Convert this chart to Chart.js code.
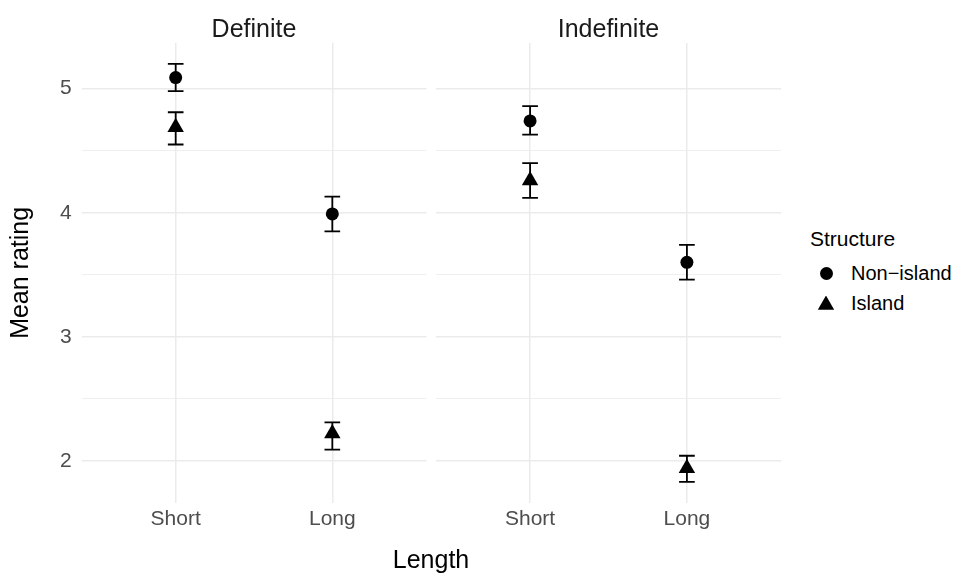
<!DOCTYPE html>
<html>
<head>
<meta charset="utf-8">
<script src="https://cdn.jsdelivr.net/npm/chart.js@4.4.1/dist/chart.umd.min.js"></script>
<style>
  body { margin: 0; background: #fff; font-family: "Liberation Sans", Arial, sans-serif; }
  #wrap { position: relative; width: 962px; height: 584px; overflow: hidden; }
  canvas { position: absolute; top: 0; }
  #definite { left: 0; }
  #indefinite { left: 436px; }
  .txt { position: absolute; white-space: nowrap; color: #000; }
  #xTitle { left: 331px; width: 200px; top: 544px; text-align: center; font-size: 25px; line-height: 30px; }
  #legTitle { left: 810px; top: 227px; font-size: 21px; line-height: 24px; }
  .key { position: absolute; background: #000; }
  #keyCircle { left: 819.5px; top: 266.5px; width: 13px; height: 13px; border-radius: 50%; }
  #keyTriangle { left: 817.8px; top: 295.5px; width: 16.4px; height: 14.2px; clip-path: polygon(50% 0, 100% 100%, 0 100%); }
  #legNon { left: 851px; top: 261px; font-size: 20px; line-height: 24px; }
  #legIsl { left: 851px; top: 291px; font-size: 20px; line-height: 24px; }
</style>
</head>
<body>
<div id="wrap">
  <canvas id="definite" width="430" height="584"></canvas>
  <canvas id="indefinite" width="345" height="584"></canvas>
  <div class="txt" id="xTitle">Length</div>
  <div class="txt" id="legTitle">Structure</div>
  <div class="key" id="keyCircle"></div>
  <div class="key" id="keyTriangle"></div>
  <div class="txt" id="legNon"></div>
  <div class="txt" id="legIsl"></div>
</div>
<script>
// categories
const facets = ["Definite", "Indefinite"];
const lengths = ["Short", "Long"];
const structures = ["Non\u2212island", "Island"];

// mean rating and error bar limits, one value per length (Short, Long)
const definiteNonIsland = [5.09, 3.99];
const definiteNonIslandLo = [4.98, 3.85];
const definiteNonIslandHi = [5.20, 4.13];
const definiteIsland = [4.69, 2.22];
const definiteIslandLo = [4.55, 2.09];
const definiteIslandHi = [4.81, 2.31];

const indefiniteNonIsland = [4.74, 3.60];
const indefiniteNonIslandLo = [4.63, 3.46];
const indefiniteNonIslandHi = [4.86, 3.74];
const indefiniteIsland = [4.26, 1.94];
const indefiniteIslandLo = [4.12, 1.83];
const indefiniteIslandHi = [4.40, 2.04];

// y ticks
const yMajorTicks = [2, 3, 4, 5];
const yMinorTicks = [2.5, 3.5, 4.5];

document.getElementById("legNon").textContent = structures[0];
document.getElementById("legIsl").textContent = structures[1];

Chart.defaults.font.family = "'Liberation Sans', Arial, sans-serif";

// ggplot style range: data range plus 5% on each side
const allLo = [].concat(definiteNonIslandLo, definiteIslandLo, indefiniteNonIslandLo, indefiniteIslandLo);
const allHi = [].concat(definiteNonIslandHi, definiteIslandHi, indefiniteNonIslandHi, indefiniteIslandHi);
const lowest = Math.min(...allLo);
const highest = Math.max(...allHi);
const span = highest - lowest;
const yMin = lowest - 0.05 * span;
const yMax = highest + 0.05 * span;

const gridColor = "#EBEBEB";

/* error bars drawn under the points */
const errorBars = {
  id: "errorBars",
  beforeDatasetsDraw(chart, args, opts) {
    const ctx = chart.ctx;
    const xs = chart.scales.x;
    const ys = chart.scales.y;
    const half = Math.abs(xs.getPixelForValue(1 + opts.width / 2) - xs.getPixelForValue(1));
    ctx.save();
    ctx.strokeStyle = "#000";
    ctx.lineWidth = 1.8;
    chart.data.datasets.forEach((ds) => {
      ds.data.forEach((p, j) => {
        const x = xs.getPixelForValue(p.x);
        const top = ys.getPixelForValue(ds.errHi[j]);
        const bot = ys.getPixelForValue(ds.errLo[j]);
        ctx.beginPath();
        ctx.moveTo(x, top);
        ctx.lineTo(x, bot);
        ctx.moveTo(x - half, top);
        ctx.lineTo(x + half, top);
        ctx.moveTo(x - half, bot);
        ctx.lineTo(x + half, bot);
        ctx.stroke();
      });
    });
    ctx.restore();
  },
};

function points(values) {
  return values.map((v, i) => ({ x: i + 1, y: v }));
}

function makeChart(id, title, nonIsland, nonLo, nonHi, island, islLo, islHi, showY) {
  new Chart(document.getElementById(id), {
    type: "scatter",
    data: {
      datasets: [
        {
          label: structures[0],
          data: points(nonIsland),
          errLo: nonLo,
          errHi: nonHi,
          pointStyle: "circle",
          pointRadius: 6.5,
          pointBorderWidth: 0,
          backgroundColor: "#000",
          borderColor: "#000",
        },
        {
          label: structures[1],
          data: points(island),
          errLo: islLo,
          errHi: islHi,
          pointStyle: "triangle",
          pointRadius: 9.5,
          pointBorderWidth: 0,
          backgroundColor: "#000",
          borderColor: "#000",
        },
      ],
    },
    options: {
      responsive: false,
      animation: false,
      events: [],
      layout: {
        autoPadding: false,
        padding: { left: 0, right: showY ? 3.7 : 0, top: 0, bottom: 0 },
      },
      plugins: {
        legend: { display: false },
        tooltip: { enabled: false },
        title: {
          display: true,
          fullSize: false,
          text: title,
          color: "#1A1A1A",
          font: { size: 25, weight: "normal", lineHeight: 1 },
          padding: { top: 18, bottom: 0 },
        },
        errorBars: { width: 0.1 },
      },
      scales: {
        x: {
          type: "linear",
          min: 0.4,
          max: lengths.length + 0.6,
          afterBuildTicks: (scale) => {
            scale.ticks = lengths.map((c, i) => ({ value: i + 1 }));
          },
          afterFit: (scale) => {
            scale.height = 81.3;
            scale.paddingLeft = 0;
            scale.paddingRight = 0;
          },
          ticks: {
            callback: (v, i) => lengths[i],
            color: "#4D4D4D",
            font: { size: 21 },
            padding: 4,
            maxRotation: 0,
            autoSkip: false,
          },
          grid: { color: gridColor, lineWidth: 1.5, drawTicks: false },
          border: { display: false },
        },
        y: {
          type: "linear",
          min: yMin,
          max: yMax,
          afterBuildTicks: (scale) => {
            scale.ticks = yMajorTicks.concat(yMinorTicks).sort((a, b) => a - b).map((v) => ({ value: v }));
          },
          afterFit: (scale) => {
            scale.width = showY ? 81.7 : 0;
            scale.paddingTop = 0;
            scale.paddingBottom = 0;
          },
          ticks: {
            display: showY,
            callback: (v) => (yMajorTicks.includes(v) ? String(v) : ""),
            color: "#4D4D4D",
            font: { size: 21 },
            padding: 10,
          },
          title: {
            display: showY,
            text: "Mean rating",
            color: "#000",
            font: { size: 25, lineHeight: 1.2 },
            padding: { top: 6, bottom: 0 },
          },
          grid: {
            color: gridColor,
            lineWidth: (ctx) => (ctx.tick && yMinorTicks.includes(ctx.tick.value) ? 0.8 : 1.5),
            drawTicks: false,
          },
          border: { display: false },
        },
      },
    },
    plugins: [errorBars],
  });
}

makeChart("definite", facets[0],
  definiteNonIsland, definiteNonIslandLo, definiteNonIslandHi,
  definiteIsland, definiteIslandLo, definiteIslandHi, true);
makeChart("indefinite", facets[1],
  indefiniteNonIsland, indefiniteNonIslandLo, indefiniteNonIslandHi,
  indefiniteIsland, indefiniteIslandLo, indefiniteIslandHi, false);
</script>
</body>
</html>
